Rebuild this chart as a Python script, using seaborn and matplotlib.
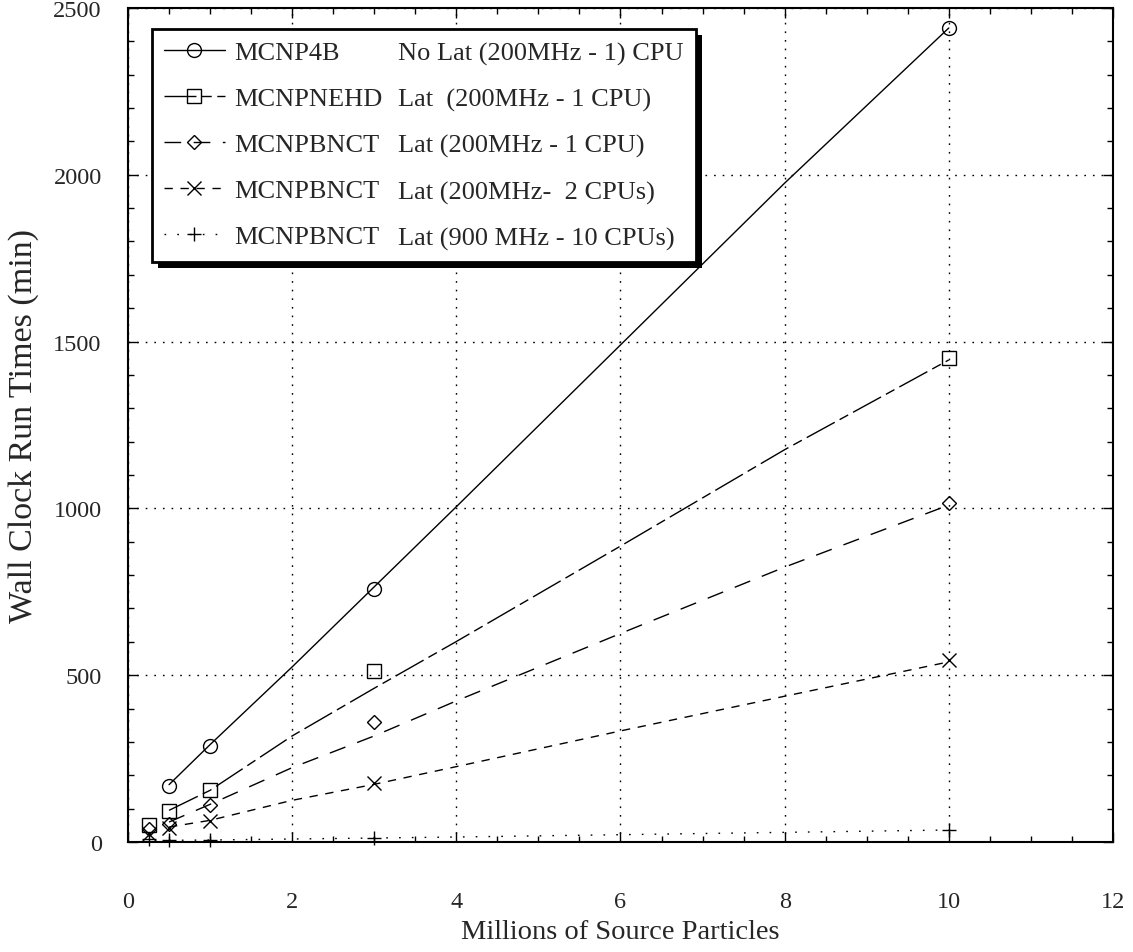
import numpy as np
import matplotlib
matplotlib.use("Agg")
import matplotlib.pyplot as plt
import seaborn as sns
from matplotlib.lines import Line2D
from matplotlib.patches import Rectangle
from matplotlib.ticker import MultipleLocator

# measured run times (markers)
x_4b = [0.5, 1, 3, 10]
y_4b = [168, 287, 757, 2440]
x_pts = [0.25, 0.5, 1, 3, 10]
y_nehd = [51, 92, 155, 512, 1450]
y_bnct1 = [39, 54, 110, 360, 1015]
y_bnct2 = [24, 42, 62, 176, 545]
y_bnct10 = [9, 6, 6, 12, 36]

# fitted curves
fit_x = [0.5, 1, 2, 3, 4, 6, 8, 10]
fit_4b = [172, 292, 525, 765, 1005, 1490, 1975, 2440]
fit_nehd = [95, 155, 318, 461, 601, 887, 1176, 1445]
fit_bnct1 = [60, 113, 223, 318, 423, 625, 824, 1010]
fit_bnct2 = [45, 65, 125, 173, 226, 333, 437, 540]
fit_bnct10 = [5, 6, 9, 12, 15, 22, 29, 36]

names = ["MCNP4B", "MCNPNEHD", "MCNPBNCT", "MCNPBNCT", "MCNPBNCT"]
descs = ["No Lat (200MHz - 1) CPU", "Lat  (200MHz - 1 CPU)", "Lat (200MHz - 1 CPU)",
         "Lat (200MHz-  2 CPUs)", "Lat (900 MHz - 10 CPUs)"]

sns.set_style("ticks")
plt.rcParams["font.family"] = ["Liberation Serif", "DejaVu Serif"]

fig = plt.figure(figsize=(11.33, 9.53), dpi=100)
ax = fig.add_axes([0.113, 0.1154, 0.8693, 0.8752])

series = [
    (x_4b, y_4b, fit_4b, "o", "-", 10),
    (x_pts, y_nehd, fit_nehd, "s", (0, (23, 4, 7, 4)), 9.5),
    (x_pts, y_bnct1, fit_bnct1, "D", (0, (12, 9)), 7),
    (x_pts, y_bnct2, fit_bnct2, "x", (0, (6, 5.5)), 10),
    (x_pts, y_bnct10, fit_bnct10, "+", (0, (1.2, 8)), 10),
]

handles = []
for xs, ys, fy, mk, ls, ms in series:
    sns.lineplot(x=fit_x, y=fy, ax=ax, color="black", lw=1.0, linestyle=ls)
    ax.plot(xs, ys, linestyle="none", marker=mk, ms=ms, mfc="none", mec="black",
            mew=1.0, clip_on=False, zorder=4)
    handles.append(Line2D([], [], color="black", lw=1.0, linestyle=ls, marker=mk,
                          ms=ms, mfc="none", mec="black", mew=1.0))

ax.set_xlim(0, 12)
ax.set_ylim(0, 2500)
ax.xaxis.set_major_locator(MultipleLocator(2))
ax.xaxis.set_minor_locator(MultipleLocator(0.5))
ax.yaxis.set_major_locator(MultipleLocator(500))
ax.yaxis.set_minor_locator(MultipleLocator(100))
ax.tick_params(which="both", direction="in", top=True, right=True, color="black")
ax.tick_params(which="major", length=7, width=1.0, labelsize=17.5, pad=19)
ax.tick_params(axis="x", which="major", pad=35)
ax.tick_params(which="minor", length=4.5, width=1.0)
ax.grid(True, which="major", color="black", linestyle=(0, (1.2, 5)), lw=1.0)
for s in ax.spines.values():
    s.set_linewidth(1.5)
    s.set_color("black")

ax.set_xlabel("Millions of Source Particles", fontsize=20.5, labelpad=5)
ax.set_ylabel("Wall Clock Run Times (min)", fontsize=24.5, labelpad=10)

blank = [Line2D([], [], linestyle="none") for _ in descs]
leg = ax.legend(handles + blank, names + descs, ncol=2, loc="upper left",
                bbox_to_anchor=(0.0244, 0.975), borderaxespad=0, fontsize=19,
                frameon=True, fancybox=False, edgecolor="black", framealpha=1,
                handlelength=2.3, handletextpad=0.38, columnspacing=-2.1,
                labelspacing=0.85, borderpad=0.45)
leg.get_frame().set_linewidth(2.0)

fig.canvas.draw()
bb = leg.get_window_extent()
shadow = Rectangle((bb.x0 + 6, bb.y0 - 6), bb.width, bb.height, transform=None,
                   facecolor="black", edgecolor="none", zorder=4.9, clip_on=False)
ax.add_artist(shadow)

fig.savefig("out.png", dpi=100)
